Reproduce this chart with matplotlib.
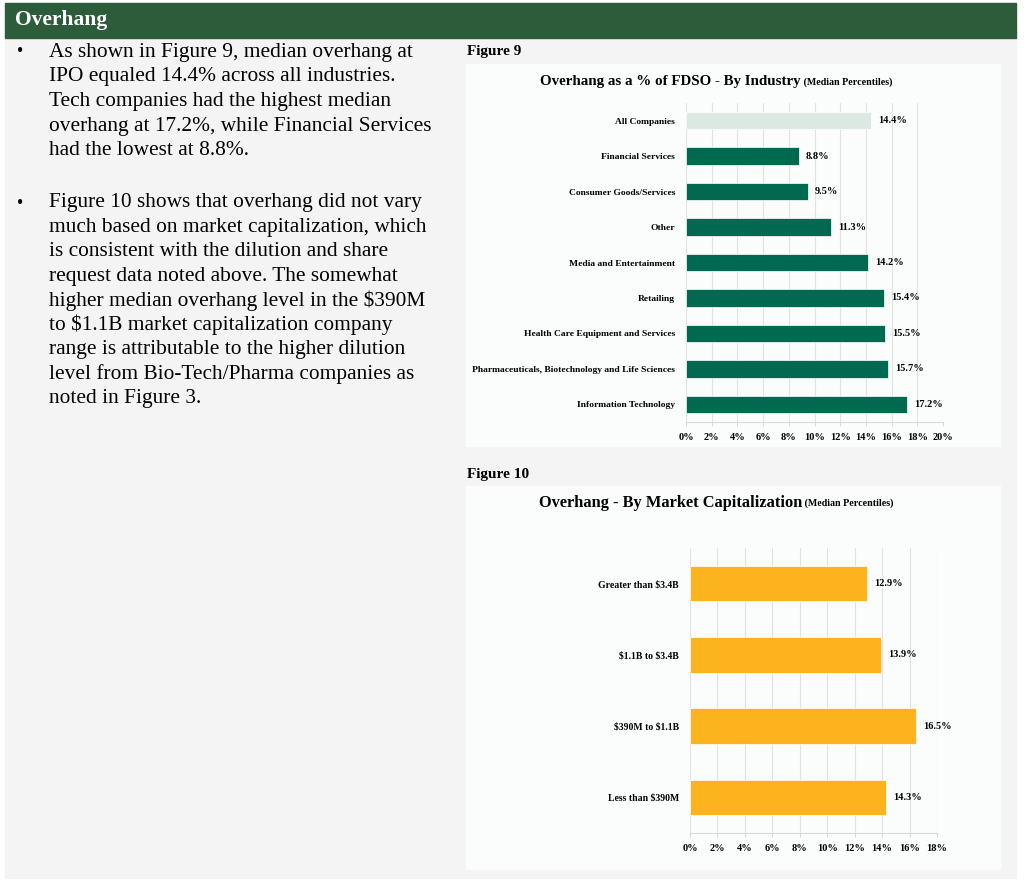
import matplotlib.pyplot as plt
from matplotlib.patches import Rectangle
from matplotlib.ticker import PercentFormatter

# Figure 9 data
industries = ['All Companies', 'Financial Services', 'Consumer Goods/Services', 'Other',
              'Media and Entertainment', 'Retailing', 'Health Care Equipment and Services',
              'Pharmaceuticals, Biotechnology and Life Sciences', 'Information Technology']
industry_vals = [14.4, 8.8, 9.5, 11.3, 14.2, 15.4, 15.5, 15.7, 17.2]

# Figure 10 data
caps = ['Greater than $3.4B', '$1.1B to $3.4B', '$390M to $1.1B', 'Less than $390M']
cap_vals = [12.9, 13.9, 16.5, 14.3]

bullet1 = ['As shown in Figure 9, median overhang at',
           'IPO equaled 14.4% across all industries.',
           'Tech companies had the highest median',
           'overhang at 17.2%, while Financial Services',
           'had the lowest at 8.8%.']
bullet2 = ['Figure 10 shows that overhang did not vary',
           'much based on market capitalization, which',
           'is consistent with the dilution and share',
           'request data noted above. The somewhat',
           'higher median overhang level in the $390M',
           'to $1.1B market capitalization company',
           'range is attributable to the higher dilution',
           'level from Bio-Tech/Pharma companies as',
           'noted in Figure 3.']

W, H = 1024, 883
SERIF = 'Liberation Serif'
plt.rcParams['font.family'] = SERIF
plt.rcParams['text.parse_math'] = False

fig = plt.figure(figsize=(W / 100, H / 100), dpi=100)
fig.patch.set_facecolor('white')


def px_rect(x0, y0, x1, y1):
    # pixel box (top-left origin) -> figure fraction
    return [x0 / W, 1 - y1 / H, (x1 - x0) / W, (y1 - y0) / H]


def fx(x):
    return x / W


def fy(y):
    return 1 - y / H


def panel(x0, y0, x1, y1, color, z):
    fig.add_artist(Rectangle((fx(x0), fy(y1)), (x1 - x0) / W, (y1 - y0) / H,
                             transform=fig.transFigure, color=color, zorder=z))


# slide background, header and chart panels
panel(5, 38, 1016, 878, '#f3f4f3', -3)
panel(5, 3, 1016, 38, '#2d5c3a', -2)
panel(466, 64, 1000, 446, '#fbfcfc', -1)
panel(466, 486, 1000, 869, '#fbfcfc', -1)

fig.text(fx(15), fy(20), 'Overhang', color='white', fontsize=15.5, fontweight='bold',
         va='center', ha='left')

# left column text
for i, line in enumerate(bullet1):
    y = 52 + i * 24.7
    if i == 0:
        fig.text(fx(17), fy(y), '•', fontsize=13, va='center')
    fig.text(fx(49), fy(y), line, fontsize=15.4, va='center')
for i, line in enumerate(bullet2):
    y = 203 + i * 24.4
    if i == 0:
        fig.text(fx(17), fy(y), '•', fontsize=13, va='center')
    fig.text(fx(49), fy(y), line, fontsize=15.4, va='center')

fig.text(fx(467), fy(52), 'Figure 9', fontsize=11, fontweight='bold', va='center')
fig.text(fx(467), fy(474), 'Figure 10', fontsize=11, fontweight='bold', va='center')


def title(y, main, sub, size):
    t = fig.text(0, fy(y), main, fontsize=size, fontweight='bold', va='center')
    s = fig.text(0, fy(y), ' ' + sub, fontsize=7.2, fontweight='bold', va='center')
    fig.canvas.draw()
    r = fig.canvas.get_renderer()
    w1 = t.get_window_extent(r).width
    w2 = s.get_window_extent(r).width
    x0 = 716 - (w1 + w2) / 2
    t.set_x(fx(x0))
    s.set_x(fx(x0 + w1))


def style_axes(ax, xmax, step, ysize):
    ax.set_facecolor('none')
    ax.set_xlim(0, xmax)
    ax.set_xticks(range(0, xmax + 1, step))
    ax.xaxis.set_major_formatter(PercentFormatter(decimals=0))
    ax.grid(axis='x', color='#e2e2e2', linewidth=0.8)
    ax.set_axisbelow(True)
    for side in ['top', 'right', 'left']:
        ax.spines[side].set_visible(False)
    ax.spines['bottom'].set_color('#d9d9d9')
    ax.tick_params(axis='x', length=3, color='#d9d9d9', labelsize=7.5, pad=5)
    ax.tick_params(axis='y', length=0, labelsize=ysize, pad=8)
    for lab in ax.get_xticklabels() + ax.get_yticklabels():
        lab.set_fontweight('bold')


# Figure 9
title(82, 'Overhang as a % of FDSO - By Industry', '(Median Percentiles)', 10.8)
ax1 = fig.add_axes(px_rect(686, 103, 943, 422))
colors9 = ['#dce9e3'] + ['#006950'] * (len(industries) - 1)
bars9 = ax1.barh(range(len(industries)), industry_vals, height=0.49, color=colors9,
                 edgecolor='white', linewidth=0.5)
ax1.set_yticks(range(len(industries)))
ax1.set_yticklabels(industries)
ax1.set_ylim(len(industries) - 0.5, -0.5)
style_axes(ax1, 20, 2, 6.8)
ax1.bar_label(bars9, labels=[f'{v:.1f}%' for v in industry_vals], padding=5,
              fontsize=7.5, fontweight='bold')

# Figure 10
title(503, 'Overhang - By Market Capitalization', '(Median Percentiles)', 11.8)
ax2 = fig.add_axes(px_rect(690, 548, 937, 833))
bars10 = ax2.barh(range(len(caps)), cap_vals, height=0.5, color='#fdb31e',
                  edgecolor='white', linewidth=0.5)
ax2.set_yticks(range(len(caps)))
ax2.set_yticklabels(caps)
ax2.set_ylim(len(caps) - 0.5, -0.5)
style_axes(ax2, 18, 2, 7)
ax2.bar_label(bars10, labels=[f'{v:.1f}%' for v in cap_vals], padding=5,
              fontsize=7.5, fontweight='bold')

fig.savefig('out.png', dpi=100, facecolor=fig.get_facecolor())
